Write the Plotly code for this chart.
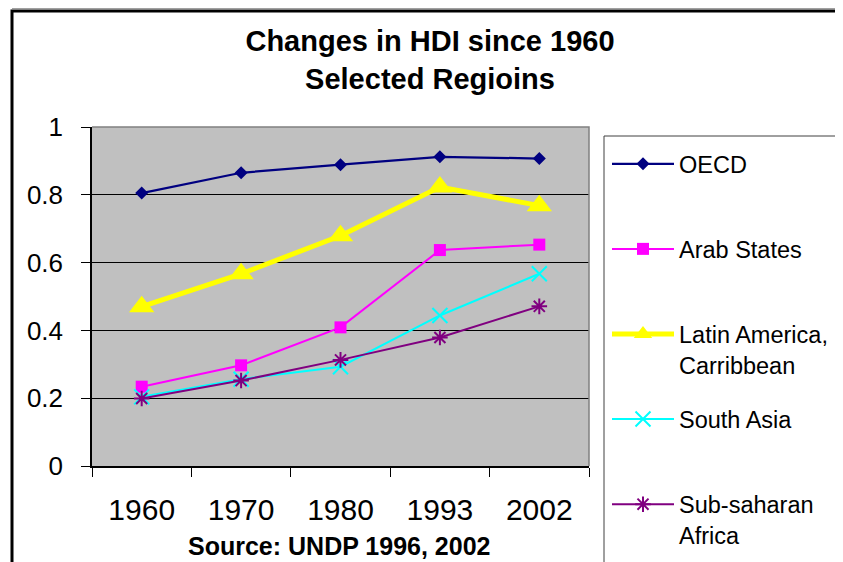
import plotly.graph_objects as go

years = ["1960", "1970", "1980", "1993", "2002"]
oecd = [0.805, 0.865, 0.889, 0.912, 0.907]
arab_states = [0.234, 0.297, 0.409, 0.637, 0.653]
latin_america = [0.470, 0.567, 0.679, 0.823, 0.768]
south_asia = [0.204, 0.256, 0.293, 0.444, 0.567]
sub_saharan = [0.199, 0.252, 0.313, 0.379, 0.471]

FONT = "Liberation Sans, Arial, sans-serif"

# the page places the figure 8px from the window's top-left corner
OFF = 8
W, H = 843 - OFF, 562 - OFF
# plot area in window pixels: x 92..589, y 127..466
L, R, T, B = 92 - OFF, W - (589 - OFF), 127 - OFF, H - (466 - OFF)
PW, PH = W - L - R, H - T - B


def px(x):
    """window x pixel -> paper x"""
    return (x - OFF - L) / PW


def py(y):
    """window y pixel -> paper y"""
    return (H - B - (y - OFF)) / PH


series = [
    ("OECD<br> ", oecd, "#000080", 2.25, "diamond", 10, 0),
    ("Arab States<br> ", arab_states, "#FF00FF", 2, "square", 12, 0),
    ("Latin America,<br>Carribbean", latin_america, "#FFFF00", 5, "triangle-up", 22, 0),
    ("South Asia<br> ", south_asia, "#00FFFF", 2, "x-thin-open", 15, 2),
    ("Sub-saharan<br>Africa", sub_saharan, "#800080", 2, "asterisk-open", 13, 2),
]

fig = go.Figure()
for i, (name, vals, color, lw, sym, size, mlw) in enumerate(series):
    marker = dict(symbol=sym, size=size, color=color)
    if mlw:
        marker["line"] = dict(color=color, width=mlw)
    else:
        marker["line"] = dict(width=0)
    fig.add_trace(go.Scatter(
        x=years, y=vals, name=name, mode="lines+markers",
        line=dict(color=color, width=lw), marker=marker,
        legendgroup=f"g{i}",
    ))

shapes = [
    # outer chart border
    dict(type="rect", xref="paper", yref="paper",
         x0=px(12), x1=px(840.5), y0=py(580), y1=py(11),
         line=dict(color="black", width=3), layer="above"),
    # page edge line at very top
    dict(type="line", xref="paper", yref="paper",
         x0=px(12), x1=px(843), y0=py(8.5), y1=py(8.5),
         line=dict(color="#A0A0A0", width=1), layer="above"),
    # legend box border
    dict(type="rect", xref="paper", yref="paper",
         x0=px(604), x1=px(840), y0=py(580), y1=py(136),
         line=dict(color="#404040", width=1), layer="above"),
    # plot area top/right border (gray)
    dict(type="path", xref="paper", yref="paper",
         path="M 0 1 L 1 1 L 1 0",
         line=dict(color="#808080", width=1.5), layer="above"),
]

fig.update_layout(
    width=W, height=H,
    margin=dict(l=L, r=R, t=T, b=B, autoexpand=False),
    paper_bgcolor="white",
    plot_bgcolor="#C0C0C0",
    font=dict(family=FONT, color="black"),
    title=dict(
        text="<b>Changes in HDI since 1960<br>Selected Regioins</b>",
        x=(430 - OFF) / W, xanchor="center", xref="container",
        y=1 - (51 - OFF) / H, yanchor="middle", yref="container",
        font=dict(size=29, family=FONT, color="black"),
    ),
    showlegend=True,
    legend=dict(
        x=px(607), xanchor="left", y=py(142), yanchor="top",
        bgcolor="rgba(0,0,0,0)", borderwidth=0,
        font=dict(size=23.5, family=FONT, color="black"),
        valign="top", itemwidth=62, tracegroupgap=21,
        traceorder="grouped", maxheight=600,
    ),
    shapes=shapes,
    annotations=[
        dict(text="<b>Source: UNDP 1996, 2002</b>", xref="paper", yref="paper",
             x=px(339), y=py(546), xanchor="center", yanchor="middle",
             showarrow=False, font=dict(size=25, family=FONT, color="black")),
    ],
)

fig.update_xaxes(
    type="category", range=[-0.5, 4.5], tickson="boundaries",
    ticks="outside", ticklen=9, tickcolor="black", tickwidth=1,
    showline=True, linecolor="black", linewidth=1.5,
    showgrid=False, zeroline=False,
    tickfont=dict(size=30, family=FONT, color="black"),
    ticklabelstandoff=16,
)
fig.update_yaxes(
    range=[0, 1], dtick=0.2, tick0=0,
    ticks="outside", ticklen=9, tickcolor="black", tickwidth=1,
    showline=True, linecolor="black", linewidth=1.5,
    showgrid=True, gridcolor="black", gridwidth=1, zeroline=False,
    tickfont=dict(size=26, family=FONT, color="black"),
    ticklabelstandoff=13,
)

fig.write_html("out.html")
